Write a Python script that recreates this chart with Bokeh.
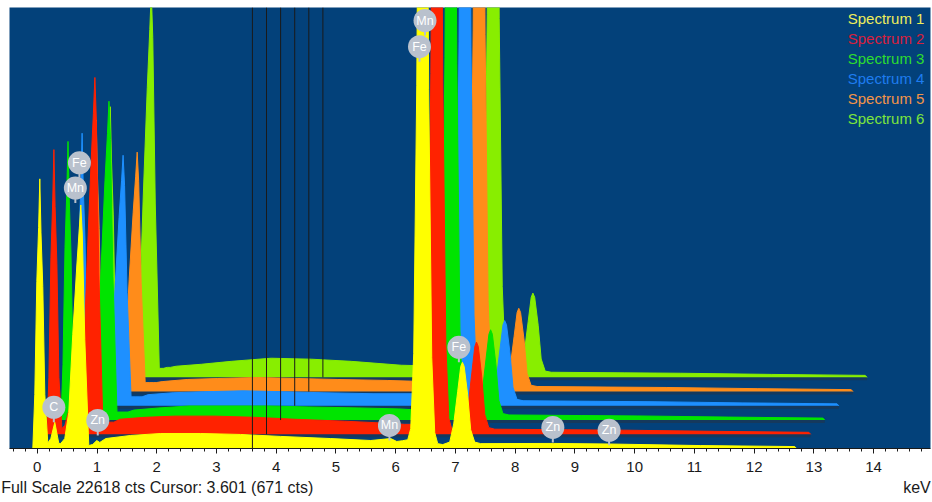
from bokeh.plotting import figure
from bokeh.models import Range1d, FixedTicker, LinearAxis
from bokeh.core.properties import value
from bokeh.embed import file_html
from bokeh.resources import INLINE

# ---------------- data (native energy grid, counts per spectrum) ----------------
ENERGY_KEV = [
    -0.075, -0.042, -0.008, 0.022, 0.042, 0.062, 0.092, 0.126, 0.176,
    0.226, 0.293, 0.360,
    0.393, 0.460, 0.527, 0.594, 0.661, 0.703, 0.728, 0.753, 0.795, 0.862, 0.929,
    0.996, 1.046, 1.146, 1.565, 2.067, 2.736, 3.406, 4.075, 4.912, 5.582, 5.916, 6.017,
    6.117, 6.201, 6.251, 6.301, 6.352, 6.402, 6.452, 6.502, 6.552, 6.603, 6.653, 6.703, 6.787,
    6.904, 6.971, 7.038, 7.088, 7.116, 7.146, 7.205, 7.255, 7.322,
    7.423, 8.644, 9.582, 11.105, 12.680, 12.710,
]

SPECTRUM_1 = [
    0, 2770, 8570, 11340, 13830, 11060, 8300, 2770, 280,
    510, 1340, 260,
    260, 510, 1850, 5860, 9360, 11260, 12490, 11000, 5600, 150, 210,
    410, 310, 510, 670, 770, 770, 720, 620, 510, 410, 510, 360,
    400, 450, 1020, 4860, 18600, 42700, 56300, 42500, 18400, 4660, 820, 250, 200,
    330, 1260, 2940, 4210, 4420, 4210, 2730, 960, 330,
    250, 260, 230, 150, 100, 0,
]
SPECTRUM_2 = [
    0, 2920, 9050, 11970, 14600, 11680, 8760, 2920, 290,
    460, 1230, 260,
    360, 720, 2720, 8580, 13720, 16450, 18300, 16090, 8220, 510, 620,
    620, 620, 770, 870, 930, 930, 870, 770, 670, 570, 510, 510,
    510, 560, 1100, 4900, 18500, 42300, 55800, 42100, 18200, 4600, 820, 260, 210,
    340, 1330, 3150, 4500, 4730, 4500, 2920, 1020, 340,
    260, 230, 210, 150, 100, 0,
]
SPECTRUM_3 = [
    0, 2860, 8860, 11720, 14290, 11430, 8570, 2860, 290,
    460, 1230, 260,
    310, 670, 2470, 7660, 12280, 14700, 16350, 14390, 7350, 410, 410,
    410, 410, 510, 620, 720, 720, 720, 670, 620, 570, 510, 510,
    510, 560, 1080, 4880, 18600, 42600, 56100, 42300, 18300, 4620, 810, 260, 220,
    330, 1310, 3080, 4400, 4630, 4400, 2860, 1000, 330,
    260, 230, 210, 150, 100, 0,
]
SPECTRUM_4 = [
    0, 2800, 8670, 11460, 13980, 11190, 8390, 2800, 280,
    410, 1130, 260,
    260, 510, 1950, 6070, 9660, 11570, 12850, 11310, 5810, 460, 460,
    460, 460, 570, 670, 720, 770, 720, 670, 620, 620, 570, 570,
    570, 600, 1120, 4920, 18700, 42900, 56600, 42600, 18400, 4650, 830, 260, 220,
    330, 1240, 2910, 4160, 4370, 4160, 2700, 950, 330,
    260, 230, 210, 150, 100, 0,
]
SPECTRUM_5 = [
    0, 2790, 8640, 11420, 13930, 11140, 8360, 2790, 280,
    410, 1130, 260,
    260, 510, 1850, 5760, 9200, 11050, 12280, 10790, 5550, 460, 460,
    460, 460, 510, 620, 670, 720, 670, 620, 570, 510, 510, 510,
    510, 560, 1080, 4880, 18500, 42400, 55900, 42200, 18300, 4610, 810, 250, 200,
    320, 1220, 2840, 4060, 4270, 4060, 2640, 930, 320,
    260, 230, 210, 150, 100, 0,
]
SPECTRUM_6 = [
    0, 2780, 8600, 11380, 13880, 11100, 8330, 2780, 280,
    410, 1130, 260,
    410, 770, 2980, 9300, 14850, 17840, 19790, 17420, 8890, 460, 460,
    510, 510, 570, 670, 820, 980, 930, 820, 620, 570, 510, 510,
    510, 560, 1100, 4900, 18600, 42700, 56300, 42500, 18400, 4660, 820, 260, 210,
    320, 1230, 2880, 4110, 4320, 4110, 2670, 940, 320,
    260, 230, 210, 150, 100, 0,
]

SPECTRA = [SPECTRUM_1, SPECTRUM_2, SPECTRUM_3, SPECTRUM_4, SPECTRUM_5, SPECTRUM_6]
SPECTRUM_NAMES = ["Spectrum 1", "Spectrum 2", "Spectrum 3", "Spectrum 4", "Spectrum 5", "Spectrum 6"]
SPECTRUM_COLORS = ["#ffff00", "#ff2200", "#00e400", "#1e90ff", "#ff8c1a", "#88ee00"]
LEGEND_COLORS = ["#eeee5a", "#d8203c", "#2edc2e", "#1e7cf0", "#f49448", "#7ce63c"]

FULL_SCALE = 22618
CURSOR_KEV = 3.601
CURSOR_CTS = 671
STATUS_TEXT = "Full Scale %d cts Cursor: %.3f  (%d cts)" % (FULL_SCALE, CURSOR_KEV, CURSOR_CTS)
UNIT_TEXT = "keV"

PEAK_LABELS = ["Fe", "Mn", "Mn", "Fe", "Fe", "Mn", "C", "Zn", "Zn", "Zn"]
PEAK_KEV = [0.705, 0.637, 6.490, 6.398, 7.057, 5.895, 0.277, 1.012, 8.630, 9.572]
PEAK_CTS = [14650, 13360, 21950, 20610, 5190, 1180, 2110, 1440, 1080, 930]

MAJOR_TICKS = list(range(0, 15))

# ---------------- display settings ----------------
X_SHIFT = 0.236      # keV offset between stacked spectra
Y_SHIFT = 730        # counts offset between stacked spectra
FRAME_H = 441
CTS_PER_PX = FULL_SCALE / FRAME_H
PX_PER_KEV = 59.74
BG = "#03417a"
SHADOW = "#15395d"
FONT = "Liberation Sans"
INK = "#1a1a1a"

p = figure(width=932, height=502,
           x_range=Range1d(-0.4653, 14.952), y_range=Range1d(0, FULL_SCALE),
           output_backend="svg", toolbar_location=None, y_axis_location=None,
           min_border_left=9, min_border_right=2, min_border_top=7, min_border_bottom=54,
           background_fill_color=BG, border_fill_color="white", outline_line_color=None)
p.grid.visible = False

# spectra: back (6) to front (1)
for k in range(len(SPECTRA) - 1, -1, -1):
    xs = [e + k * X_SHIFT for e in ENERGY_KEV]
    base = [k * Y_SHIFT] * len(xs)
    top = [k * Y_SHIFT + c for c in SPECTRA[k]]
    if k > 0:
        p.varea(x=xs, y1=[b - 3 * CTS_PER_PX for b in base], y2=base, fill_color=SHADOW)
    p.varea(x=xs, y1=base, y2=top, fill_color=SPECTRUM_COLORS[k])
    p.line(x=xs, y=top, line_color=SPECTRUM_COLORS[k], line_width=1)

# cursor lines
cx = [CURSOR_KEV + k * X_SHIFT for k in range(len(SPECTRA))]
cy0 = [k * Y_SHIFT for k in range(len(SPECTRA))]
p.segment(x0=cx, y0=cy0, x1=cx, y1=[FULL_SCALE] * len(cx), line_color=INK, line_width=1)

# peak labels
stem = [c - 15 * CTS_PER_PX for c in PEAK_CTS]
p.segment(x0=PEAK_KEV, y0=PEAK_CTS, x1=PEAK_KEV, y1=stem, line_color="#b9c1cd", line_width=2)
p.scatter(x=PEAK_KEV, y=PEAK_CTS, size=23, fill_color="#b9c1cd", line_color=None)
p.text(x=PEAK_KEV, y=PEAK_CTS, text=PEAK_LABELS, text_align="center", text_baseline="middle",
       text_color="white", text_font_size="12.5px", text_font=value(FONT))

# legend (top right)
leg_y = [FULL_SCALE - (11 + 20 * i) * CTS_PER_PX for i in range(len(SPECTRUM_NAMES))]
p.text(x=[14.851] * len(leg_y), y=leg_y, text=SPECTRUM_NAMES, text_color=LEGEND_COLORS,
       text_align="right", text_baseline="middle", text_font_size="15px", text_font=value(FONT))

# x axis
ax = p.xaxis[0]
ax.ticker = FixedTicker(ticks=MAJOR_TICKS, minor_ticks=[round(-0.4 + 0.2 * i, 2) for i in range(77)])
ax.major_tick_out = 5
ax.major_tick_in = 0
ax.minor_tick_out = 3
ax.minor_tick_in = 0
ax.axis_line_color = INK
ax.major_tick_line_color = INK
ax.minor_tick_line_color = INK
ax.major_label_text_font = FONT
ax.major_label_text_font_size = "15px"
ax.major_label_text_color = INK
ax.major_label_standoff = 8

# status line under the axis (second, tickless axis carrying the two texts)
status_x = (159 - 36.8) / PX_PER_KEV
unit_x = (916.5 - 36.8) / PX_PER_KEV
status_axis = LinearAxis(ticker=FixedTicker(ticks=[status_x, unit_x], minor_ticks=[]),
                         major_label_overrides={status_x: STATUS_TEXT, unit_x: UNIT_TEXT},
                         axis_line_color=None, major_tick_line_color=None, minor_tick_line_color=None,
                         major_tick_out=0, major_tick_in=0, major_label_standoff=4,
                         major_label_text_font=FONT, major_label_text_font_size="16px",
                         major_label_text_color=INK)
p.add_layout(status_axis, "below")

open("out.html", "w").write(file_html(p, INLINE))
